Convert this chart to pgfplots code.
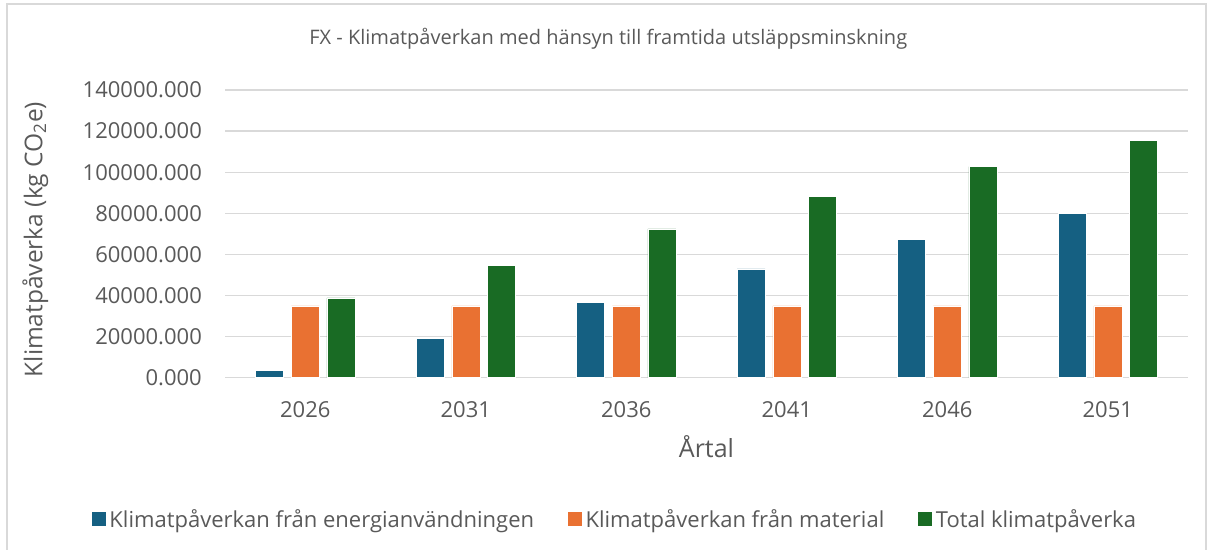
\documentclass[border=0pt]{standalone}
\usepackage{fontspec}
\setmainfont{Open Sans}
\usepackage{pgfplots}
\pgfplotsset{compat=1.18}

\definecolor{energi}{HTML}{156082}
\definecolor{material}{HTML}{E97132}
\definecolor{total}{HTML}{196B24}
\definecolor{txt}{HTML}{595959}
\definecolor{gridgray}{HTML}{D9D9D9}

\begin{document}
\begin{tikzpicture}[x=1pt,y=1pt]
  \useasboundingbox (0,0) rectangle (1213,549);
  \draw[gridgray, line width=1.2pt] (7,-5) rectangle (1206,545);
  \begin{axis}[
      at={(225pt,171.3pt)}, anchor=south west,
      scale only axis,
      width=963pt, height=287.7pt,
      ybar=7.6pt, bar width=28pt,
      xmin=-0.5, xmax=5.5,
      ymin=0, ymax=140000,
      xtick={0,...,5},
      xticklabels={2026,2031,2036,2041,2046,2051},
      ytick={0,20000,...,140000},
      ymajorgrids=true,
      grid style={draw=gridgray, line width=1.3pt},
      axis line style={draw=none},
      major tick length=0pt,
      scaled y ticks=false,
      /pgf/number format/.cd, fixed, fixed zerofill, precision=3, 1000 sep={},
        assume math mode=true,
      /pgfplots/.cd,
      yticklabel style={font=\fontsize{22}{26}\selectfont, text=txt, inner sep=0pt, xshift=-23pt},
      xticklabel style={font=\fontsize{22}{26}\selectfont, text=txt, inner sep=0pt, yshift=-24pt},
      title={FX - Klimatpåverkan med hänsyn till framtida utsläppsminskning},
      title style={font=\fontsize{20}{24}\selectfont, text=txt, at={(axis description cs:0.398,1)}, anchor=center, yshift=45pt},
      xlabel={Årtal},
      xlabel style={font=\fontsize{25}{30}\selectfont, text=txt, at={(axis description cs:0.5,0)}, anchor=center, yshift=-69pt},
      ylabel={Klimatpåverka (kg CO\textsubscript{2}e)},
      ylabel style={font=\fontsize{24.5}{29}\selectfont, text=txt, at={(axis description cs:-0.197,0.48)}, anchor=center},
      legend columns=3,
      legend style={draw=none, fill=none, at={(axis description cs:0.405,-0.491)}, anchor=center,
        font=\fontsize{22}{26}\selectfont, text=txt,
        /tikz/every even column/.append style={column sep=30pt},
        nodes={inner xsep=3pt}},
      legend image code/.code={\fill[#1] (0pt,-7.5pt) rectangle (15pt,7.5pt);},
    ]
    \addplot[fill=energi, draw=white, line width=0.5pt] coordinates {
        (0,3600) (1,19000) (2,36700) (3,52900) (4,67300) (5,80000)};
    \addplot[fill=material, draw=white, line width=0.5pt] coordinates {
        (0,35000) (1,35000) (2,35000) (3,35000) (4,35000) (5,35000)};
    \addplot[fill=total, draw=white, line width=0.5pt] coordinates {
        (0,38900) (1,54500) (2,72400) (3,88100) (4,102700) (5,115600)};
    \legend{Klimatpåverkan från energianvändningen, Klimatpåverkan från material, Total klimatpåverka}
  \end{axis}
\end{tikzpicture}
\end{document}
